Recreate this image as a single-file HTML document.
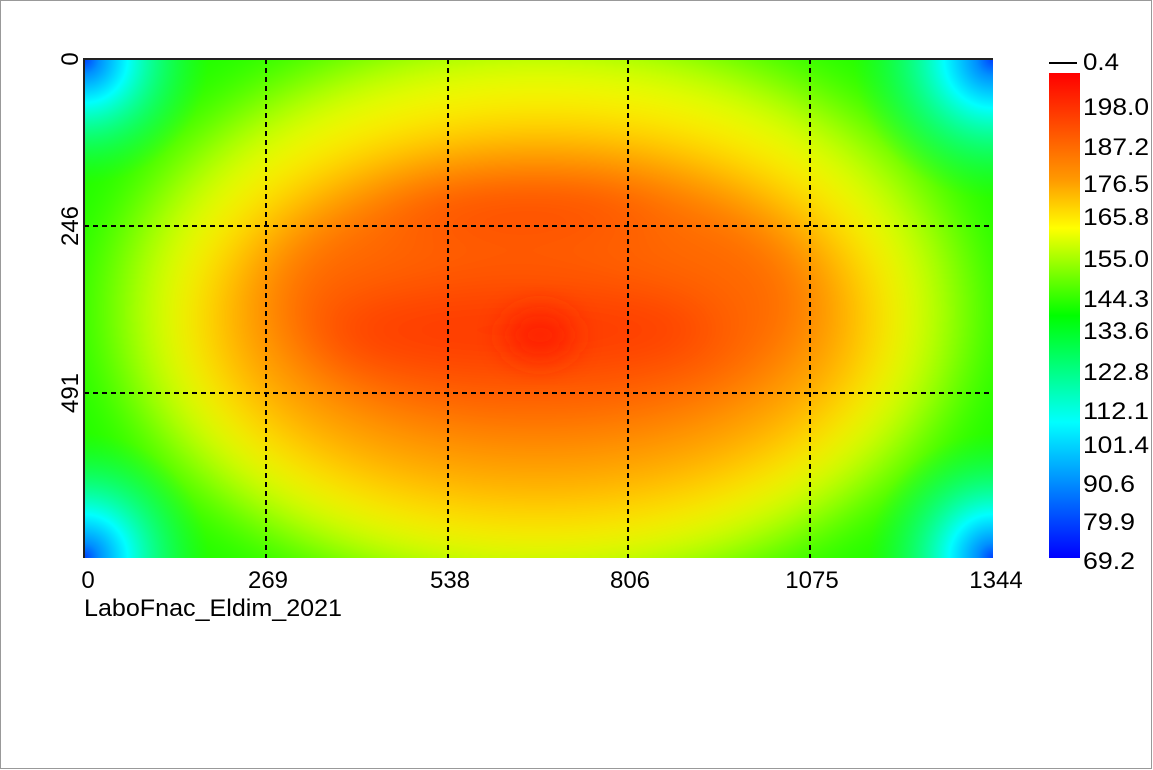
<!DOCTYPE html>
<html><head><style>
html,body{margin:0;padding:0;background:#fff;}
svg{display:block;}
text{font-family:"Liberation Sans",sans-serif;font-size:24px;fill:#000;}
</style></head><body>
<svg width="1153" height="770" viewBox="0 0 1153 770">
<defs>
<filter id="b" x="-20%" y="-20%" width="140%" height="140%"><feGaussianBlur stdDeviation="30"/></filter>
<filter id="b2" x="-50%" y="-50%" width="200%" height="200%"><feGaussianBlur stdDeviation="14"/></filter>
<clipPath id="c"><rect x="84" y="59" width="909" height="499"/></clipPath>
<radialGradient id="corner">
<stop offset="0" stop-color="#0040ff"/><stop offset="0.12" stop-color="#0090ff"/><stop offset="0.35" stop-color="#00ffff"/><stop offset="0.7" stop-color="#00ffa0" stop-opacity="0.5"/><stop offset="1" stop-color="#00ff60" stop-opacity="0"/>
</radialGradient>
<linearGradient id="cb" x1="0" y1="0" x2="0" y2="1">
<stop offset="0" stop-color="#ff0000"/>
<stop offset="0.22" stop-color="#ff9900"/>
<stop offset="0.32" stop-color="#ffff00"/>
<stop offset="0.5" stop-color="#00ff00"/>
<stop offset="0.72" stop-color="#00ffff"/>
<stop offset="1" stop-color="#0000ff"/>
</linearGradient>
</defs>
<rect x="0.5" y="0.5" width="1151" height="768" fill="#fff" stroke="#999"/>
<g clip-path="url(#c)">
<rect x="84" y="59" width="909" height="499" fill="#20ff00"/>
<g filter="url(#b)">
<ellipse cx="540" cy="310" rx="440" ry="290" fill="#99ff00"/>
<ellipse cx="540" cy="315" rx="380" ry="250" fill="#ffff00"/>
<ellipse cx="540" cy="320" rx="340" ry="200" fill="#ffaa00"/>
<ellipse cx="540" cy="305" rx="280" ry="145" fill="#ff6a00"/>
<ellipse cx="520" cy="330" rx="210" ry="55" fill="#ff3a00"/>
<ellipse cx="520" cy="205" rx="140" ry="30" fill="#ff4400"/>
</g>
<g filter="url(#b2)">
<ellipse cx="540" cy="335" rx="35" ry="25" fill="#ff2000"/>
</g>
<ellipse cx="84" cy="59" rx="125" ry="125" fill="url(#corner)"/>
<ellipse cx="993" cy="59" rx="140" ry="140" fill="url(#corner)"/>
<ellipse cx="84" cy="558" rx="125" ry="125" fill="url(#corner)"/>
<ellipse cx="993" cy="558" rx="125" ry="125" fill="url(#corner)"/>
<g stroke="#000" stroke-width="2" stroke-dasharray="5,4">
<line x1="266" y1="59" x2="266" y2="558"/><line x1="448" y1="59" x2="448" y2="558"/>
<line x1="628" y1="59" x2="628" y2="558"/><line x1="810" y1="59" x2="810" y2="558"/>
<line x1="84" y1="226" x2="993" y2="226"/><line x1="84" y1="393" x2="993" y2="393"/>
</g>
</g>
<path d="M84 558 V59 H993" fill="none" stroke="#222" stroke-width="2"/>
<rect x="1049" y="73" width="31" height="485" fill="url(#cb)"/>
<line x1="1049" y1="63" x2="1077" y2="63" stroke="#000" stroke-width="2"/>
<g>
<text x="1083" y="70" textLength="36" lengthAdjust="spacingAndGlyphs">0.4</text>
<text x="1083" y="115" textLength="66" lengthAdjust="spacingAndGlyphs">198.0</text>
<text x="1083" y="155" textLength="66" lengthAdjust="spacingAndGlyphs">187.2</text>
<text x="1083" y="192" textLength="66" lengthAdjust="spacingAndGlyphs">176.5</text>
<text x="1083" y="225" textLength="66" lengthAdjust="spacingAndGlyphs">165.8</text>
<text x="1083" y="267" textLength="66" lengthAdjust="spacingAndGlyphs">155.0</text>
<text x="1083" y="307" textLength="66" lengthAdjust="spacingAndGlyphs">144.3</text>
<text x="1083" y="339" textLength="66" lengthAdjust="spacingAndGlyphs">133.6</text>
<text x="1083" y="380" textLength="66" lengthAdjust="spacingAndGlyphs">122.8</text>
<text x="1083" y="419" textLength="66" lengthAdjust="spacingAndGlyphs">112.1</text>
<text x="1083" y="453" textLength="66" lengthAdjust="spacingAndGlyphs">101.4</text>
<text x="1083" y="492" textLength="52" lengthAdjust="spacingAndGlyphs">90.6</text>
<text x="1083" y="530" textLength="52" lengthAdjust="spacingAndGlyphs">79.9</text>
<text x="1083" y="569" textLength="52" lengthAdjust="spacingAndGlyphs">69.2</text>
</g>
<g text-anchor="middle">
<text x="88" y="588">0</text>
<text x="268" y="588">269</text>
<text x="450" y="588">538</text>
<text x="630" y="588">806</text>
<text x="812" y="588">1075</text>
<text x="996" y="588">1344</text>
</g>
<text x="84" y="616" textLength="258" lengthAdjust="spacingAndGlyphs">LaboFnac_Eldim_2021</text>
<g text-anchor="middle">
<text transform="translate(78,59) rotate(-90)">0</text>
<text transform="translate(78,226) rotate(-90)">246</text>
<text transform="translate(78,393) rotate(-90)">491</text>
</g>
</svg>
</body></html>
